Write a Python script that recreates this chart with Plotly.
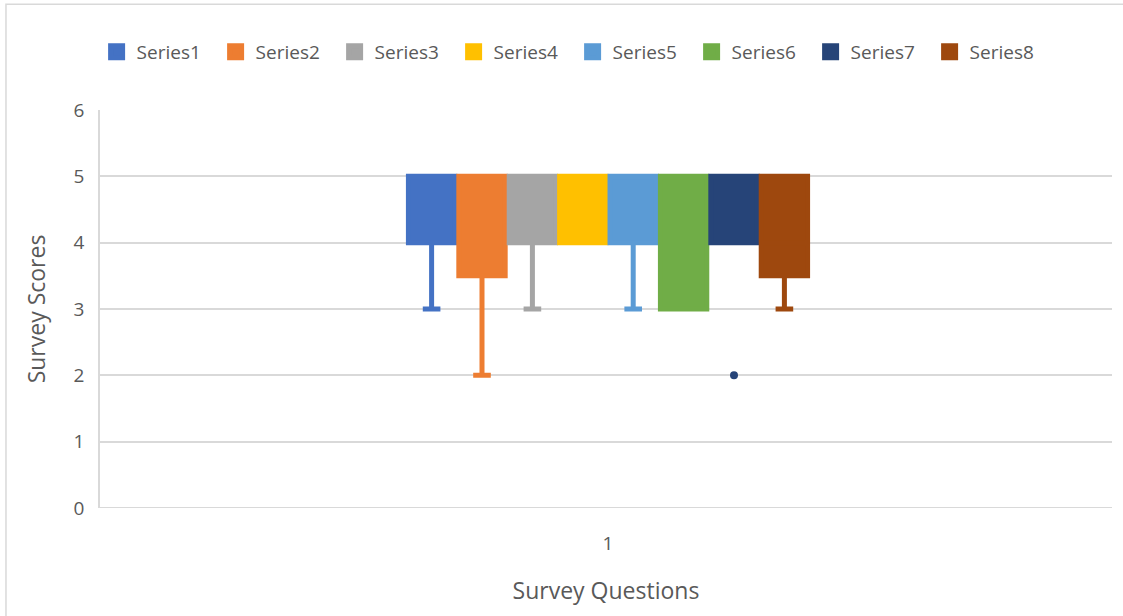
import plotly.graph_objects as go

# Survey score summaries (one box per series, all under question "1")
series = ["Series1", "Series2", "Series3", "Series4",
          "Series5", "Series6", "Series7", "Series8"]
colors = ["#4472C4", "#ED7D31", "#A5A5A5", "#FFC000",
          "#5B9BD5", "#70AD47", "#264478", "#9E480E"]
question = ["1"]
q1 = [4, 3.5, 4, 4, 4, 3, 4, 3.5]
median = [5, 5, 5, 5, 5, 5, 5, 4]
q3 = [5, 5, 5, 5, 5, 5, 5, 5]
low = [3, 2, 3, 4, 3, 3, 4, 3]
high = [5, 5, 5, 5, 5, 5, 5, 5]
outliers = [None, None, None, None, None, None, [2], None]

FONT = "Open Sans"
TXT = "#595959"

fig = go.Figure()
for i, name in enumerate(series):
    kw = {}
    if outliers[i]:
        kw["y"] = [outliers[i]]
        kw["boxpoints"] = "outliers"
    fig.add_trace(go.Box(
        name=name,
        x=question,
        q1=[q1[i]], median=[median[i]], q3=[q3[i]],
        lowerfence=[low[i]], upperfence=[high[i]],
        marker=dict(color=colors[i], size=8),
        line=dict(color=colors[i], width=5),
        fillcolor=colors[i],
        whiskerwidth=0.38,
        hoverinfo="skip",
        **kw,
    ))

fig.update_layout(
    width=1123, height=616,
    margin=dict(l=100, r=11, t=110, b=108),
    paper_bgcolor="white", plot_bgcolor="white",
    boxmode="group", boxgap=0.6, boxgroupgap=0.08,
    font=dict(family=FONT, color=TXT, size=19),
    legend=dict(orientation="h", x=0.467, xanchor="center",
                y=1.146, yanchor="middle",
                font=dict(size=19, color=TXT), itemwidth=30,
                entrywidth=74, entrywidthmode="pixels",
                traceorder="normal"),
    xaxis=dict(type="category", showgrid=False, showline=False,
               ticks="", ticklabelstandoff=22,
               tickfont=dict(size=19, color=TXT),
               title=dict(text="Survey Questions", standoff=27,
                          font=dict(size=23, color=TXT))),
    yaxis=dict(range=[0, 6], dtick=1, showgrid=True, gridcolor="#D9D9D9",
               gridwidth=1.5, zeroline=False, showline=True,
               linecolor="#D9D9D9", linewidth=1.5, ticks="",
               ticklabelstandoff=10,
               tickfont=dict(size=19, color=TXT),
               title=dict(text="Survey Scores", standoff=22,
                          font=dict(size=23, color=TXT))),
    shapes=[
        # bottom axis line across the plot area
        dict(type="line", xref="paper", yref="y", x0=0, x1=1, y0=0, y1=0,
             line=dict(color="#D9D9D9", width=2), layer="below"),
        # outer chart frame
        dict(type="rect", xref="paper", yref="paper",
             x0=-0.0929, x1=1.2, y0=-0.6, y1=1.266,
             line=dict(color="#D9D9D9", width=1.5), layer="below"),
    ],
)

fig.write_html("out.html")
